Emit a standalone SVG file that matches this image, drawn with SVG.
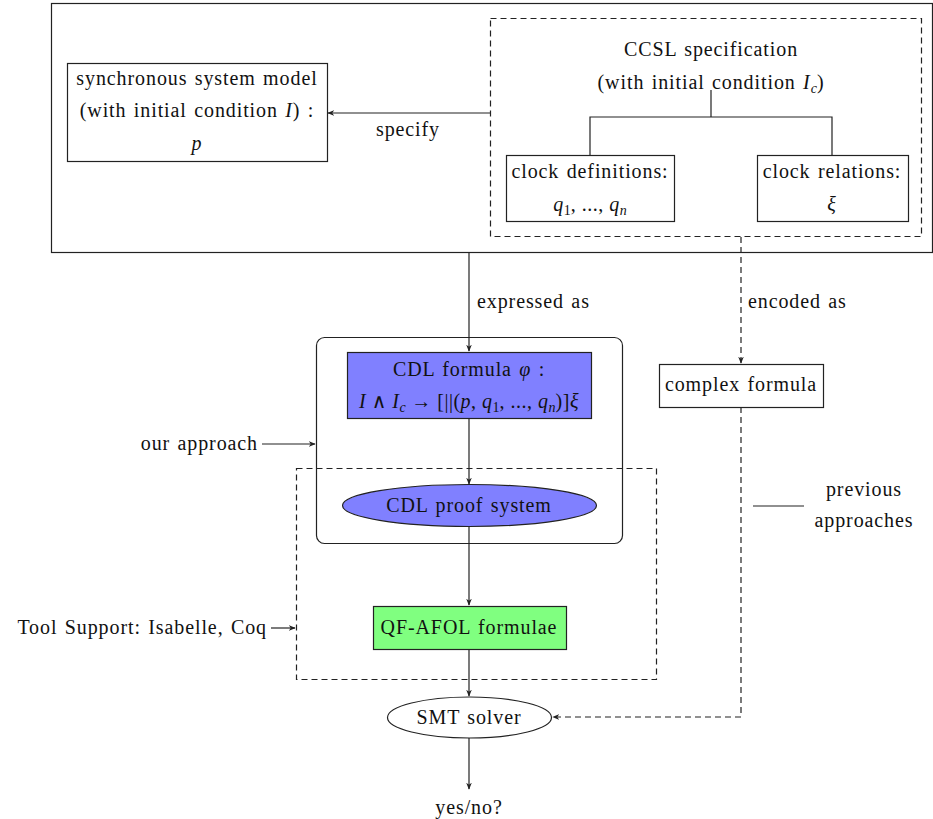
<svg xmlns="http://www.w3.org/2000/svg" width="933" height="819" viewBox="0 0 933 819">
<style>
text{font-family:"Liberation Serif","DejaVu Serif",serif;font-size:20px;letter-spacing:0.9px;word-spacing:1.5px;fill:#111}
.c{text-anchor:middle}
.i{font-style:italic}
.s{font-size:14px;letter-spacing:0}
.m{word-spacing:0;letter-spacing:0.5px}
.box{fill:#fff;stroke:#222;stroke-width:1.2}
.ln{fill:none;stroke:#222;stroke-width:1.2}
.d{stroke-dasharray:6,4}
</style>
<defs>
<marker id="ah" viewBox="0 0 10 10" refX="9" refY="5" markerWidth="7" markerHeight="7" orient="auto" markerUnits="userSpaceOnUse">
<path d="M0,1 L10,5 L0,9 L3,5 Z" fill="#222"/>
</marker>
</defs>
<rect x="51.5" y="3.5" width="881" height="249" class="box" fill="none"/>
<g id="ccsl">
<rect x="490.5" y="18.5" width="431" height="218" class="ln d"/>
<text x="711" y="56" class="c">CCSL specification</text>
<text x="711" y="89" class="c">(with initial condition <tspan class="i">I</tspan><tspan class="i s" dy="4">c</tspan><tspan dy="-4">)</tspan></text>
<path d="M711,90 V117 M590,155 V117 H832 V155" class="ln"/>
</g>
<g id="sync">
<rect x="67.5" y="63.5" width="260" height="98" class="box"/>
<text x="197" y="85" class="c">synchronous system model</text>
<text x="197" y="117" class="c">(with initial condition <tspan class="i">I</tspan>) :</text>
<text x="197" y="150" class="c i">p</text>
</g>
<g id="clockdef">
<rect x="506.5" y="155.5" width="168" height="66" class="box"/>
<text x="590" y="178" class="c">clock definitions:</text>
<text x="590" y="211" class="c m"><tspan class="i">q</tspan><tspan class="s" dy="4">1</tspan><tspan dy="-4">, ..., </tspan><tspan class="i">q</tspan><tspan class="i s" dy="4">n</tspan></text>
</g>
<g id="clockrel">
<rect x="757.5" y="155.5" width="151" height="66" class="box"/>
<text x="832" y="178" class="c">clock relations:</text>
<text x="832" y="211" class="c i">ξ</text>
</g>
<g id="our">
<rect x="316.5" y="337.5" width="306" height="206" rx="8" class="box"/>
</g>
<g id="tool">
<rect x="296.5" y="468.5" width="360" height="211" class="ln d"/>
</g>
<g id="cdlformula">
<rect x="347.5" y="352.5" width="244" height="66" fill="#8080ff" stroke="#222" stroke-width="1.2"/>
<text x="469" y="376" class="c">CDL formula <tspan class="i">φ</tspan> :</text>
<text x="469" y="408" class="c m"><tspan class="i">I</tspan> ∧ <tspan class="i">I</tspan><tspan class="i s" dy="4">c</tspan><tspan dy="-4"> → [||(</tspan><tspan class="i">p</tspan>, <tspan class="i">q</tspan><tspan class="s" dy="4">1</tspan><tspan dy="-4">, ..., </tspan><tspan class="i">q</tspan><tspan class="i s" dy="4">n</tspan><tspan dy="-4">)]</tspan><tspan class="i">ξ</tspan></text>
</g>
<g id="proof">
<ellipse cx="469.5" cy="505.5" rx="127" ry="21" fill="#8080ff" stroke="#222" stroke-width="1.2"/>
<text x="469" y="512" class="c">CDL proof system</text>
</g>
<g id="qfafol">
<rect x="373.5" y="606.5" width="193" height="43" fill="#80ff80" stroke="#222" stroke-width="1.2"/>
<text x="469" y="634" class="c">QF-AFOL formulae</text>
</g>
<g id="smt">
<ellipse cx="469.5" cy="717.5" rx="82" ry="20.5" class="box"/>
<text x="469" y="724" class="c">SMT solver</text>
</g>
<g id="complex">
<rect x="659.5" y="364.5" width="164" height="43" class="box"/>
<text x="741" y="391" class="c">complex formula</text>
</g>
<g id="labels">
<text x="408" y="136" class="c">specify</text>
<text x="477" y="308">expressed as</text>
<text x="748" y="308">encoded as</text>
<text x="258" y="450" text-anchor="end">our approach</text>
<text x="267" y="634" text-anchor="end">Tool Support: Isabelle, Coq</text>
<text x="864" y="496" class="c">previous</text>
<text x="864" y="527" class="c">approaches</text>
<text x="469" y="814" class="c">yes/no?</text>
</g>
<g id="connectors">
<path d="M490,113 H328" class="ln" marker-end="url(#ah)"/>
<path d="M469,252 V351" class="ln" marker-end="url(#ah)"/>
<path d="M741,237 V363" class="ln d" marker-end="url(#ah)"/>
<path d="M469,418 V484" class="ln" marker-end="url(#ah)"/>
<path d="M469,527 V605" class="ln" marker-end="url(#ah)"/>
<path d="M469,649 V696" class="ln" marker-end="url(#ah)"/>
<path d="M469,738 V789" class="ln" marker-end="url(#ah)"/>
<path d="M741,407 V717 H553" class="ln d" marker-end="url(#ah)"/>
<path d="M262,444 H315" class="ln" marker-end="url(#ah)"/>
<path d="M271,628 H295" class="ln" marker-end="url(#ah)"/>
<path d="M753,506 H804" class="ln"/>
</g>
</svg>
